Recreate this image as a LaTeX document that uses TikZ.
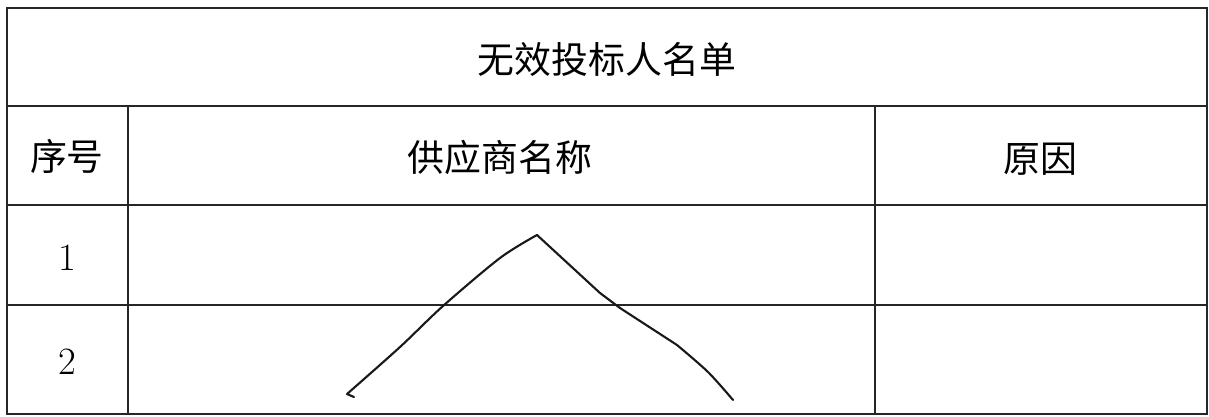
\documentclass[tikz,border=0pt]{standalone}
\usepackage{fontspec}
\newfontfamily\cjk{Noto Sans CJK SC}
\usetikzlibrary{positioning}
\tikzset{
    % Colors
    rule color/.style={black!85},
    pen color/.style={black!90},
    %
    % Table
    table rule/.style={rule color, line width=1.1pt},
    cell text/.style={font=\cjk\fontsize{21}{25}\selectfont, inner sep=0pt},
    number text/.style={font=\fontsize{22}{25}\selectfont, inner sep=0pt},
    %
    % Hand drawn mark
    pen stroke/.style={pen color, line width=1.2pt, line cap=round, line join=round}
}

\begin{document}
\begin{tikzpicture}[x=0.02cm, y=-0.02cm]
    \useasboundingbox (0,0) rectangle (1209,416);
    % table frame
    \draw[table rule] (7,8) rectangle (1207,414);
    \foreach \y in {106,205,305}{
        \draw[table rule] (7,\y) -- (1207,\y);
    }
    \draw[table rule] (128,106) -- (128,414);
    \draw[table rule] (875,106) -- (875,414);

    % texts
    \node[cell text] (title) at (607,59) {无效投标人名单};
    \node[cell text] (numhead) at (67,156) {序号};
    \node[cell text] (namehead) at (500,157) {供应商名称};
    \node[cell text] (reasonhead) at (1040,159) {原因};
    \node[number text] (one) at (67,258) {1};
    \node[number text] (two) at (67,362) {2};

    % the stroke across the empty rows
    \draw[pen stroke] (354,397) -- (347,394)
        plot[smooth, tension=.5] coordinates {(347,394) (400,347) (443,306) (500,258) (537,235)};
    \draw[pen stroke] (537,235) -- (600,293) -- (620,308) -- (677,345)
        plot[smooth, tension=.5] coordinates {(677,345) (708,372) (733,400)};
\end{tikzpicture}
\end{document}
